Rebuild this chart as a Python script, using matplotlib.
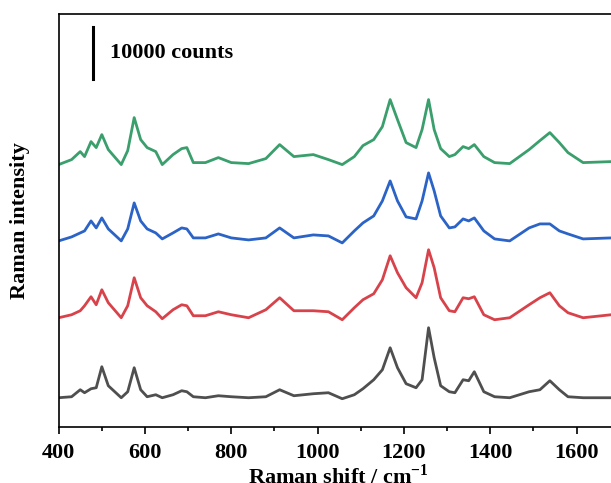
import matplotlib
matplotlib.use("Agg")
import matplotlib.pyplot as plt
from matplotlib.ticker import FixedLocator

plt.rcParams['font.family'] = ['Liberation Serif', 'DejaVu Serif']
plt.rcParams['font.weight'] = 'bold'
plt.rcParams['mathtext.fontset'] = 'custom'
plt.rcParams['mathtext.rm'] = 'Liberation Serif:bold'
plt.rcParams['mathtext.bf'] = 'Liberation Serif:bold'

# Raman shift (cm-1), shared by all four spectra
shift = [400, 430, 450, 460, 475, 487, 500, 515, 545, 560, 575, 590, 605, 625, 640,
         665, 685, 697, 712, 740, 770, 800, 840, 880, 912, 945, 990, 1025, 1057,
         1085, 1105, 1130, 1150, 1168, 1185, 1205, 1228, 1242, 1257, 1270, 1285,
         1305, 1318, 1337, 1350, 1363, 1385, 1410, 1445, 1490, 1515, 1538, 1560,
         1580, 1615, 1680, 1750, 1800]

# intensities above each baseline (counts)
gray = [0, 190, 1520, 950, 1710, 1900, 5890, 2280, 0, 1140, 5700, 1520, 190, 570, 0,
        570, 1330, 1140, 190, 0, 380, 190, 0, 190, 1520, 380, 760, 950, -190,
        570, 1710, 3420, 5320, 9500, 5700, 2660, 1900, 3420, 13300, 7600, 2280,
        1140, 950, 3420, 3230, 4940, 1140, 190, 0, 1140, 1520, 3230, 1520,
        190, 0, 0, 0, 0]
red = [0, 570, 1330, 2280, 3990, 2470, 5320, 2850, 0, 2280, 7600, 3800, 2280, 1140, -190,
       1520, 2470, 2280, 380, 380, 1140, 570, 0, 1520, 3800, 1330, 1330, 1140, -380,
       1900, 3420, 4560, 7220, 11780, 8550, 5700, 3800, 6650, 12920, 9500, 3800,
       1330, 1140, 3800, 3610, 3990, 570, -380, 0, 2470, 3800, 4750, 2280,
       950, 0, 570, 570, 570]
blue = [0, 760, 1520, 1900, 3800, 2470, 4370, 2280, 0, 2280, 7220, 3800, 2280, 1520, 380,
        1520, 2470, 2280, 570, 570, 1330, 570, 190, 570, 2470, 570, 1140, 950, -380,
        1900, 3420, 4750, 7600, 11400, 7600, 4560, 4180, 7600, 12920, 9500, 4750,
        2470, 2660, 4180, 3800, 4370, 1900, 380, 0, 2470, 3230, 3230, 1900,
        1330, 380, 570, 570, 570]
green = [0, 950, 2470, 1520, 4370, 3230, 5700, 2850, 0, 2660, 8930, 4750, 3230, 2470, 0,
         1900, 3040, 3230, 380, 380, 1330, 380, 190, 1140, 3800, 1520, 1900, 950, 0,
         1520, 3610, 4750, 7220, 12350, 8550, 4180, 3230, 6650, 12350, 6650, 3040,
         1520, 1900, 3420, 3040, 3800, 1520, 380, 190, 2850, 4560, 6080, 4180,
         2280, 380, 570, 570, 570]

series = [gray, red, blue, green]
baselines = [5500, 20700, 35300, 49800]
colors = ['#4f4f4f', '#d8434b', '#2b63c6', '#3a9f6c']

major_ticks = [400, 600, 800, 1000, 1200, 1400, 1600]
minor_ticks = [500, 700, 900, 1100, 1300, 1500, 1700]

fig = plt.figure(figsize=(6.11, 4.83), dpi=100)
ax = fig.add_axes([0.096, 0.1166, 0.989, 0.855])

for vals, base, c in zip(series, baselines, colors):
    ax.plot(shift, [v + base for v in vals], color=c, lw=2.0)

# scale bar
ax.plot([480, 480], [66000, 76000], color='black', lw=2.2)
ax.text(519, 71000, '10000 counts', fontsize=16, fontweight='bold', va='center', ha='left')

ax.set_xlim(400, 1800)
ax.set_ylim(0, 78470)
ax.xaxis.set_major_locator(FixedLocator(major_ticks))
ax.xaxis.set_minor_locator(FixedLocator(minor_ticks))
ax.set_yticks([])
ax.tick_params(axis='x', which='major', length=5, width=1.2, labelsize=16, pad=7)
ax.tick_params(axis='x', which='minor', length=3, width=1.2)
for s in ax.spines.values():
    s.set_linewidth(1.2)
ax.spines['right'].set_visible(False)

ax.set_ylabel('Raman intensity', fontsize=16, fontweight='bold')
ax.yaxis.set_label_coords(-0.047, 0.5)
ax.set_xlabel(r'Raman shift / cm$^{-1}$', fontsize=16, fontweight='bold')
ax.xaxis.set_label_coords(0.462, -0.09)

fig.savefig('out.png', dpi=100)
